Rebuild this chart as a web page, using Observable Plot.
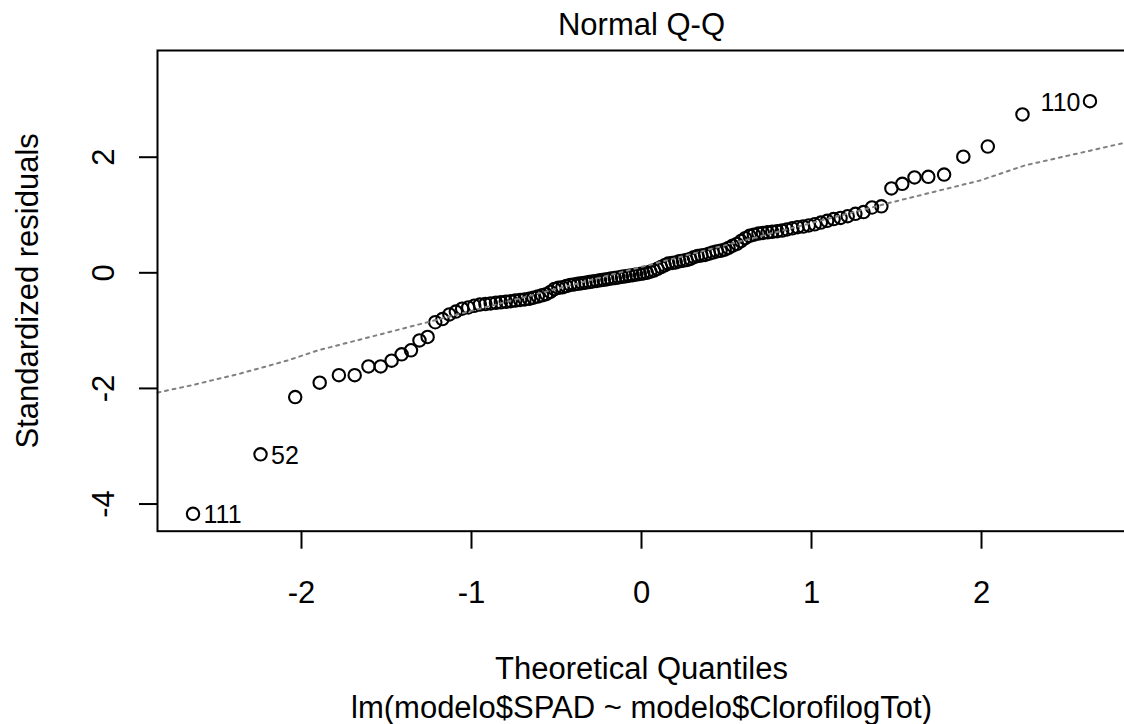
<!DOCTYPE html>
<html><head><meta charset="utf-8">
<script src="https://cdn.jsdelivr.net/npm/d3@7"></script>
<script src="https://cdn.jsdelivr.net/npm/@observablehq/plot@0.6"></script>
<style>
html,body{margin:0;padding:0;background:#fff;overflow:hidden;}
#chart svg{display:block;max-width:none !important;}
</style></head><body><div id="chart"></div>
<script>
// Theoretical normal quantiles (n = 120), read/derived positions along x
const theoretical = [
-2.638,-2.241,-2.037,-1.893,-1.780,-1.687,-1.606,-1.534,-1.470,-1.411,
-1.356,-1.306,-1.258,-1.213,-1.171,-1.130,-1.092,-1.055,-1.019,-0.984,
-0.951,-0.918,-0.887,-0.856,-0.827,-0.798,-0.769,-0.742,-0.714,-0.688,
-0.661,-0.636,-0.610,-0.585,-0.561,-0.536,-0.512,-0.489,-0.465,-0.442,
-0.419,-0.397,-0.374,-0.352,-0.330,-0.308,-0.287,-0.265,-0.244,-0.222,
-0.201,-0.180,-0.157,-0.136,-0.115,-0.094,-0.073,-0.052,-0.031,-0.010,
0.010,0.031,0.052,0.073,0.094,0.115,0.136,0.157,0.180,0.201,
0.222,0.244,0.265,0.287,0.308,0.330,0.352,0.374,0.397,0.419,
0.442,0.465,0.489,0.512,0.536,0.561,0.585,0.610,0.636,0.661,
0.688,0.714,0.742,0.769,0.798,0.827,0.856,0.887,0.918,0.951,
0.984,1.019,1.055,1.092,1.130,1.171,1.213,1.258,1.306,1.356,
1.411,1.470,1.534,1.606,1.687,1.780,1.893,2.037,2.241,2.638
];
// Sorted standardized residuals
const residuals = [
-4.17,-3.14,-2.15,-1.90,-1.77,-1.77,-1.62,-1.62,-1.52,-1.41,
-1.34,-1.17,-1.11,-0.855,-0.80,-0.72,-0.67,-0.62,-0.60,-0.57,
-0.55,-0.54,-0.53,-0.52,-0.51,-0.50,-0.49,-0.48,-0.47,-0.46,
-0.45,-0.43,-0.41,-0.39,-0.37,-0.33,-0.28,-0.26,-0.25,-0.23,
-0.21,-0.20,-0.19,-0.18,-0.17,-0.16,-0.15,-0.14,-0.13,-0.12,
-0.11,-0.10,-0.09,-0.08,-0.07,-0.06,-0.05,-0.04,-0.03,-0.02,
-0.01,0.00,0.02,0.04,0.07,0.10,0.13,0.16,0.17,0.18,
0.20,0.21,0.22,0.24,0.27,0.29,0.30,0.31,0.33,0.35,
0.37,0.38,0.40,0.43,0.47,0.50,0.55,0.60,0.64,0.66,
0.68,0.69,0.70,0.71,0.72,0.73,0.75,0.77,0.79,0.80,
0.82,0.84,0.87,0.90,0.93,0.95,0.98,1.02,1.05,1.13,
1.15,1.46,1.54,1.65,1.66,1.70,2.01,2.185,2.74,2.97
];
// Labelled observations: label text, rank in sorted order, side of label
const idLabels = ["111", "52", "110"];
const idRanks = [1, 2, 120];
const idSides = ["right", "right", "left"];
// Reference (qq) line
const refLineX = [-2.847, -2.653, -2.359, -2.082, -1.906, -1.259, 1.441, 1.991, 2.253, 2.824, 2.86];
const refLineY = [-2.071, -1.950, -1.742, -1.517, -1.344, -0.855, 1.197, 1.597, 1.856, 2.237, 2.26];
const xTicks = [-2, -1, 0, 1, 2];
const yTicks = [-4, -2, 0, 2];
const titleText = "Normal Q-Q";
const xLabel = "Theoretical Quantiles";
const subCaption = "lm(modelo$SPAD ~ modelo$ClorofilogTot)";
const yLabel = "Standardized residuals";

const points = theoretical.map((x, i) => ({x, y: residuals[i]}));
const refLine = refLineX.map((x, i) => ({x, y: refLineY[i]}));
const ids = idLabels.map((t, k) => ({
  label: t, x: theoretical[idRanks[k] - 1], y: residuals[idRanks[k] - 1], side: idSides[k]
}));

const FS = 31;
const font = "'Liberation Sans', Arial, Helvetica, sans-serif";
const txt = {fontSize: FS, fill: "black", textAnchor: "middle", lineAnchor: "middle"};

const chart = Plot.plot({
  width: 1126,
  height: 724,
  marginLeft: 157,
  marginRight: 1,
  marginTop: 50,
  marginBottom: 193.3,
  style: {fontFamily: font, background: "white", maxWidth: "none", overflow: "visible"},
  x: {domain: [-2.847, 2.847]},
  y: {domain: [-4.47, 3.846]},
  marks: [
    Plot.axisX({ticks: xTicks, tickSize: 18, tickFormat: () => "", label: null, stroke: "black", strokeWidth: 2}),
    Plot.axisY({ticks: yTicks, tickSize: 18, tickFormat: () => "", label: null, stroke: "black", strokeWidth: 2}),
    Plot.text(xTicks, {...txt, x: d => d, text: d => String(d), frameAnchor: "bottom", dy: 61.5}),
    Plot.text(yTicks, {...txt, y: d => d, text: d => String(d), frameAnchor: "left", dx: -53.8, rotate: -90}),
    Plot.text([titleText], {...txt, text: d => d, frameAnchor: "top", dy: -25.3}),
    Plot.text([xLabel], {...txt, text: d => d, frameAnchor: "bottom", dy: 138}),
    Plot.text([subCaption], {...txt, text: d => d, frameAnchor: "bottom", dy: 176.5}),
    Plot.text([yLabel], {...txt, text: d => d, frameAnchor: "left", dx: -129.8, rotate: -90}),
    Plot.dot(points, {x: "x", y: "y", r: 6.2, stroke: "black", strokeWidth: 2.1, fill: "none"}),
    Plot.line(refLine, {x: "x", y: "y", stroke: "#808080", strokeWidth: 2, strokeDasharray: "3,4.7"}),
    Plot.text(ids.filter(d => d.side === "right"), {x: "x", y: "y", text: "label", textAnchor: "start", lineAnchor: "middle", dx: 10.5, dy: 1.5, fontSize: 25, fill: "black"}),
    Plot.text(ids.filter(d => d.side === "left"), {x: "x", y: "y", text: "label", textAnchor: "end", lineAnchor: "middle", dx: -9.5, dy: 1.5, fontSize: 25, fill: "black"}),
    Plot.frame({stroke: "black", strokeWidth: 2})
  ]
});
document.getElementById("chart").appendChild(chart);
</script>
</body></html>
